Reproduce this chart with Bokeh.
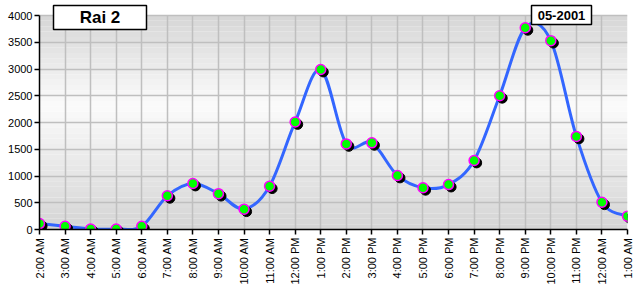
import numpy as np
from bokeh.plotting import figure
from bokeh.models import Range1d, FixedTicker, Label, BoxAnnotation, ColumnDataSource
from bokeh.transform import dodge
from bokeh.embed import file_html
from bokeh.resources import INLINE

hours = ["2:00 AM", "3:00 AM", "4:00 AM", "5:00 AM", "6:00 AM", "7:00 AM", "8:00 AM",
         "9:00 AM", "10:00 AM", "11:00 AM", "12:00 PM", "1:00 PM", "2:00 PM", "3:00 PM",
         "4:00 PM", "5:00 PM", "6:00 PM", "7:00 PM", "8:00 PM", "9:00 PM", "10:00 PM",
         "11:00 PM", "12:00 AM", "1:00 AM"]
values = [110, 60, 10, 10, 60, 630, 860, 670, 380, 810, 2010, 2990, 1600, 1620,
          1010, 780, 840, 1290, 2500, 3770, 3530, 1740, 510, 250]
y_ticks = [0, 500, 1000, 1500, 2000, 2500, 3000, 3500, 4000]
title_text = "Rai 2"
period_text = "05-2001"

FONT = "Liberation Sans"
x = np.arange(len(hours), dtype=float)
y = np.array(values, dtype=float)
ymin, ymax = y_ticks[0], y_ticks[-1]
# frame extends 15px above the top tick so the header boxes are not clipped
headroom = (ymax - ymin) * 15.0 / 214.0

p = figure(width=641, height=290, x_range=Range1d(0, len(hours) - 1),
           y_range=Range1d(ymin, ymax + headroom),
           output_backend="svg", toolbar_location=None,
           min_border_left=39, min_border_right=14, min_border_top=0, min_border_bottom=61)
p.background_fill_color = "white"
p.border_fill_color = "white"
p.outline_line_color = None

# vertical gradient background (decoration)
n_bands = 40
top_c = np.array([0xd6, 0xd6, 0xd6]); mid_c = np.array([0xfb, 0xfb, 0xfb]); bot_c = np.array([0xd4, 0xd4, 0xd4])
mid_v = 0.58 * ymax
bb, tt, cc = [], [], []
for i in range(n_bands):
    b = ymax * i / n_bands
    t = ymax * (i + 1) / n_bands
    c = 0.5 * (b + t)
    if c < mid_v:
        f = c / mid_v
        col = bot_c + (mid_c - bot_c) * f
    else:
        f = (c - mid_v) / (ymax - mid_v)
        col = mid_c + (top_c - mid_c) * f
    bb.append(b); tt.append(t)
    cc.append("#%02x%02x%02x" % tuple(int(round(v)) for v in col))
r = p.quad(left=x[0], right=x[-1], bottom=bb, top=tt, fill_color=cc, line_color=None)
r.level = "image"

# grid
p.xgrid.ticker = FixedTicker(ticks=list(x))
p.ygrid.ticker = FixedTicker(ticks=y_ticks)
p.xgrid.cross_bounds = (ymin, ymax)
for g in (p.xgrid, p.ygrid):
    g.grid_line_color = "#bfbfbf"
    g.grid_line_width = 1.5

# axes
p.xaxis.ticker = FixedTicker(ticks=list(x))
p.xaxis.major_label_overrides = {int(i): h for i, h in enumerate(hours)}
p.xaxis.major_label_orientation = np.pi / 2
p.yaxis.ticker = FixedTicker(ticks=y_ticks)
p.yaxis.bounds = (ymin, ymax)
for ax in (p.xaxis, p.yaxis):
    ax.axis_line_color = "black"
    ax.axis_line_width = 1.5
    ax.major_tick_line_color = "black"
    ax.major_tick_line_width = 1.5
    ax.major_tick_out = 5
    ax.major_tick_in = 0
    ax.minor_tick_line_color = None
    ax.major_label_text_font = FONT
    ax.major_label_text_font_size = "11px"
    ax.major_label_text_color = "black"
p.xaxis.major_label_standoff = 3
p.yaxis.major_label_standoff = 2

# smooth line (Catmull-Rom bezier through the data points)
xp = np.concatenate([[x[0]], x, [x[-1]]])
yp = np.concatenate([[y[0]], y, [y[-1]]])
x0 = x[:-1]; y0 = y[:-1]; x1 = x[1:]; y1 = y[1:]
cx0 = x0 + (xp[2:-1] - xp[:-3]) / 6.0
cy0 = y0 + (yp[2:-1] - yp[:-3]) / 6.0
cx1 = x1 - (xp[3:] - xp[1:-2]) / 6.0
cy1 = y1 - (yp[3:] - yp[1:-2]) / 6.0
p.bezier(x0=x0, y0=y0, x1=x1, y1=y1, cx0=cx0, cy0=cy0, cx1=cx1, cy1=cy1,
         line_color="#3366ff", line_width=3, line_cap="round")

# markers with shadow
src = ColumnDataSource(dict(x=x, y=y))
p.scatter(x=dodge("x", 0.1, range=p.x_range), y=dodge("y", -45, range=p.y_range),
          source=src, size=10, fill_color="black", line_color="black")
p.scatter(x="x", y="y", source=src, size=10, fill_color="#00ff00",
          line_color="#ff00ff", line_width=1.5)

# header boxes (screen units are relative to the frame's bottom-left corner)
p.add_layout(BoxAnnotation(left=14, right=107, top=224, bottom=200,
                           left_units="screen", right_units="screen",
                           top_units="screen", bottom_units="screen",
                           fill_color="white", fill_alpha=1, line_color="black",
                           line_alpha=1, line_width=1.5, level="overlay"))
p.add_layout(Label(x=60.5, y=212, x_units="screen", y_units="screen", text=title_text,
                   text_font=FONT, text_font_size="17px", text_font_style="bold",
                   text_color="black",
                   text_align="center", text_baseline="middle", level="overlay"))
p.add_layout(BoxAnnotation(left=492, right=552, top=224, bottom=205,
                           left_units="screen", right_units="screen",
                           top_units="screen", bottom_units="screen",
                           fill_color="white", fill_alpha=1, line_color="black",
                           line_alpha=1, line_width=1.5, level="overlay"))
p.add_layout(Label(x=522, y=214.5, x_units="screen", y_units="screen", text=period_text,
                   text_font=FONT, text_font_size="13px", text_font_style="bold",
                   text_color="black",
                   text_align="center", text_baseline="middle", level="overlay"))

open("out.html", "w").write(file_html(p, INLINE))
